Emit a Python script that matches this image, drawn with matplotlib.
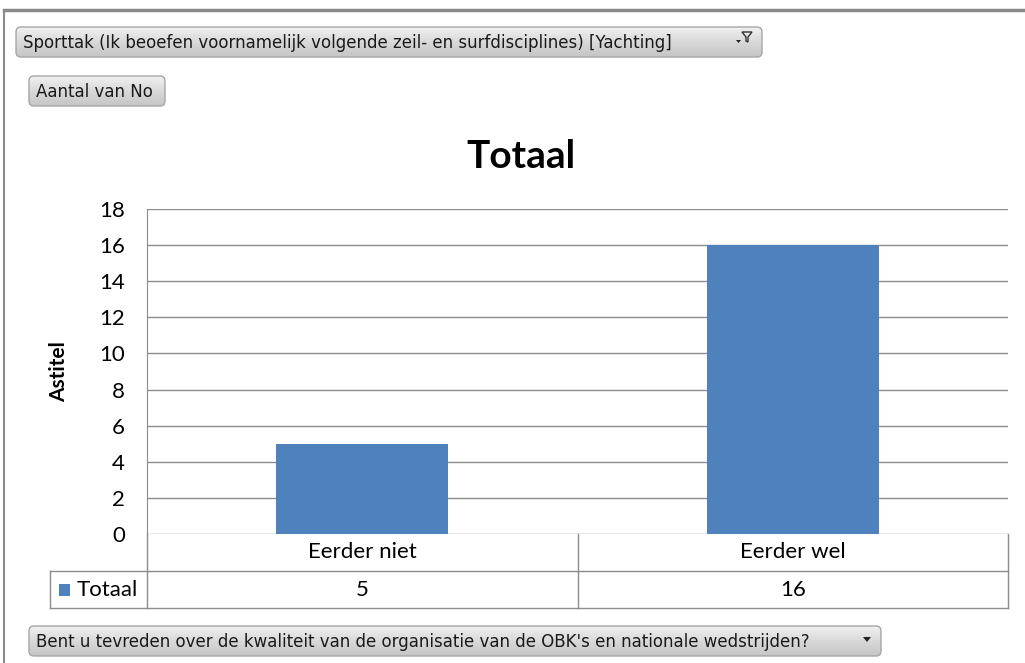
import numpy as np
import matplotlib
matplotlib.use('Agg')
import matplotlib.pyplot as plt
from matplotlib.patches import FancyBboxPatch, Rectangle, Polygon
from matplotlib.transforms import blended_transform_factory

# data
categories = ['Eerder niet', 'Eerder wel']
values = [5, 16]
series_name = 'Totaal'
y_ticks = [0, 2, 4, 6, 8, 10, 12, 14, 16, 18]
title = 'Totaal'
y_label = 'Astitel'
filter_text = 'Sporttak (Ik beoefen voornamelijk volgende zeil- en surfdisciplines) [Yachting]'
value_button = 'Aantal van No'
axis_button = "Bent u tevreden over de kwaliteit van de organisatie van de OBK's en nationale wedstrijden?"

W, H = 1025, 663
bar_color = '#4F81BD'
grid_color = '#8C8C8C'
body_font = ['Lato', 'DejaVu Sans']
button_font = ['Liberation Sans Narrow', 'DejaVu Sans']

fig = plt.figure(figsize=(W / 100, H / 100), dpi=100)
fig.patch.set_facecolor('white')


def fbox(x0, y0, x1, y1):
    # pixel box (top-left origin) -> figure fraction [l, b, w, h]
    return [x0 / W, 1 - y1 / H, (x1 - x0) / W, (y1 - y0) / H]


# outer frame
frame = fig.add_axes([0, 0, 1, 1])
frame.set_xlim(0, W)
frame.set_ylim(H, 0)
frame.axis('off')
frame.plot([4, W], [10, 10], color='#8A8A8A', lw=2.5)
frame.plot([4, 4], [10, H], color='#8A8A8A', lw=1.5)
frame.text(521, 156, title, family=body_font, fontsize=28, fontweight='bold',
           ha='center', va='center')


def button(x0, y0, x1, y1, text, icon=None):
    bax = fig.add_axes(fbox(x0, y0, x1, y1))
    bax.set_xlim(0, x1 - x0)
    bax.set_ylim(y1 - y0, 0)
    bax.axis('off')
    grad = np.linspace(0, 1, 64).reshape(-1, 1)
    img = bax.imshow(grad, cmap=matplotlib.colors.LinearSegmentedColormap.from_list(
        'g', ['#F2F2F2', '#D9D9D9', '#C4C4C4']),
        extent=[0, x1 - x0, y1 - y0, 0], aspect='auto')
    patch = FancyBboxPatch((1, 1), x1 - x0 - 2, y1 - y0 - 2,
                           boxstyle='round,pad=0,rounding_size=5',
                           facecolor='none', edgecolor='#A6A6A6', lw=1)
    bax.add_patch(patch)
    img.set_clip_path(patch)
    bax.text(8, (y1 - y0) / 2 + 1, text, family=button_font, fontsize=12,
             va='center', ha='left', color='#1A1A1A')
    if icon == 'filter':
        w = x1 - x0
        bax.add_patch(Polygon([[w - 21, 6], [w - 11, 6], [w - 15, 11], [w - 15, 16],
                               [w - 17, 15], [w - 17, 11]], closed=True,
                              facecolor='#E8E8E8', edgecolor='#333333', lw=1))
        bax.add_patch(Polygon([[w - 27, 14], [w - 22, 14], [w - 24.5, 17]], closed=True,
                              facecolor='#222222', edgecolor='none'))
    elif icon == 'down':
        w = x1 - x0
        bax.add_patch(Polygon([[w - 19, 12], [w - 11, 12], [w - 15, 17]], closed=True,
                              facecolor='#222222', edgecolor='none'))


button(15, 26, 763, 58, filter_text, icon='filter')
button(28, 75, 166, 107, value_button)
button(28, 625, 882, 657, axis_button, icon='down')

# plot area
ax = fig.add_axes(fbox(147, 209, 1008, 534))
x = np.arange(len(categories))
ax.bar(x, values, width=0.4, color=bar_color, zorder=3)
ax.set_xlim(-0.5, len(categories) - 0.5)
ax.set_ylim(0, 18)
ax.set_yticks(y_ticks)
ax.set_yticklabels([str(t) for t in y_ticks], family=body_font, fontsize=16)
ax.tick_params(axis='y', length=0, pad=16)
ax.set_xticks([])
ax.grid(axis='y', color=grid_color, lw=1, zorder=0)
for s in ['top', 'right', 'bottom']:
    ax.spines[s].set_visible(False)
ax.spines['left'].set_color(grid_color)
ax.set_ylabel(y_label, family=body_font, fontsize=15, fontweight='bold')
ax.yaxis.set_label_coords(-0.09, 0.5)

# data table below the axis
tr = blended_transform_factory(ax.transData, ax.transAxes)
row1 = -37 / 325
row2 = -74 / 325
left_tab = -97 / 861
lk = dict(color=grid_color, lw=1, clip_on=False, transform=ax.transAxes)
ax.plot([0, 0], [0, row2], **lk)
ax.plot([1, 1], [0, row2], **lk)
ax.plot([0.5, 0.5], [0, row2], **lk)
ax.plot([left_tab, 1], [row1, row1], **lk)
ax.plot([left_tab, 1], [row2, row2], **lk)
ax.plot([left_tab, left_tab], [row1, row2], **lk)
for i, c in enumerate(categories):
    ax.text(x[i], row1 / 2, c, transform=tr, ha='center', va='center',
            family=body_font, fontsize=16)
    ax.text(x[i], (row1 + row2) / 2, str(values[i]), transform=tr, ha='center',
            va='center', family=body_font, fontsize=16)
ax.add_patch(Rectangle((-88 / 861, (row1 + row2) / 2 - 6 / 325), 11 / 861, 12 / 325,
                       transform=ax.transAxes, facecolor=bar_color, clip_on=False))
ax.text(-70 / 861, (row1 + row2) / 2, series_name, transform=ax.transAxes,
        ha='left', va='center', family=body_font, fontsize=16)

fig.savefig('out.png', dpi=100)
